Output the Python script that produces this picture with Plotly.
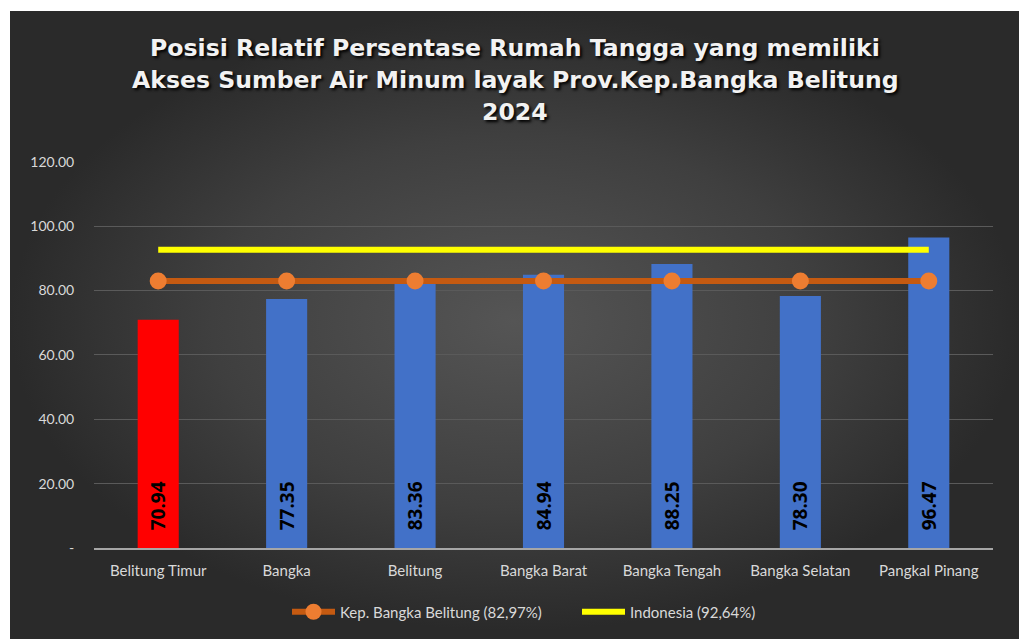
import plotly.graph_objects as go

categories = ["Belitung Timur", "Bangka", "Belitung", "Bangka Barat", "Bangka Tengah", "Bangka Selatan", "Pangkal Pinang"]
values = [70.94, 77.35, 83.36, 84.94, 88.25, 78.30, 96.47]
prov_value = 82.97
indo_value = 92.64
prov_name = "Kep. Bangka Belitung (82,97%)"
indo_name = "Indonesia (92,64%)"
tick_vals = [0, 20, 40, 60, 80, 100, 120]
tick_text = ["-", "20.00", "40.00", "60.00", "80.00", "100.00", "120.00"]
title_lines = ["Posisi Relatif Persentase Rumah Tangga yang memiliki",
               "Akses Sumber Air Minum layak Prov.Kep.Bangka Belitung",
               "2024"]

W, H = 1019, 639
TOP, PH = 8, 623  # observed vertical placement of the plotting area in the page


def fx(px):
    return px / W


def fy(py):
    return 1 - (py - TOP) / PH


bar_colors = ["#FF0000" if i == 0 else "#4271C8" for i in range(len(categories))]

fig = go.Figure()

# background radial gradient panel (subplot xy, drawn first)
fig.add_trace(go.Scatter(
    x=[0, 1, 1, 0, 0], y=[0, 0, 1, 1, 0], mode="lines", fill="toself",
    line=dict(width=0, color="rgba(0,0,0,0)"),
    fillgradient=dict(type="radial", colorscale=[[0, "#555555"], [0.6, "#3f3f3f"], [1, "#2a2a2a"]]),
    hoverinfo="skip", showlegend=False, xaxis="x", yaxis="y"))

nbsp = "\u00a0"
fig.add_trace(go.Bar(
    x=categories, y=values, marker=dict(color=bar_colors, line=dict(width=0)),
    text=[nbsp * 3 + f"{v:.2f}" for v in values], textposition="inside", insidetextanchor="start",
    textangle=-90, textfont=dict(family="Open Sans", size=19, color="#000000", weight="bold"),
    showlegend=False, xaxis="x2", yaxis="y2", hoverinfo="skip"))

fig.add_trace(go.Scatter(
    x=categories, y=[prov_value] * len(categories), mode="lines+markers", name=prov_name,
    line=dict(color="#C55A11", width=6), marker=dict(color="#ED7D31", size=17),
    xaxis="x2", yaxis="y2"))

fig.add_trace(go.Scatter(
    x=categories, y=[indo_value] * len(categories), mode="lines", name=indo_name,
    line=dict(color="#FFFF00", width=6), xaxis="x2", yaxis="y2"))

title_y = [47, 79, 111]
annotations = [
    dict(text=t, xref="paper", yref="paper", x=fx(515), y=fy(yy), xanchor="center",
         yanchor="middle", showarrow=False,
         font=dict(family="DejaVu Sans", size=23.6, color="#f2f2f2", weight="bold",
                   shadow="2px 2px 3px #000000"))
    for t, yy in zip(title_lines, title_y)
]

# white page border strips (top and left) outside the dark chart area
shapes = [
    dict(type="rect", xref="paper", yref="paper", x0=-0.5, x1=fx(10), y0=-0.5, y1=1.5,
         fillcolor="white", line=dict(width=0), layer="above"),
    dict(type="rect", xref="paper", yref="paper", x0=-0.5, x1=1.5, y0=fy(10), y1=1.5,
         fillcolor="white", line=dict(width=0), layer="above"),
]

fig.update_layout(
    width=W, height=H,
    margin=dict(l=0, r=0, t=0, b=0),
    paper_bgcolor="#2a2a2a", plot_bgcolor="rgba(0,0,0,0)",
    xaxis=dict(domain=[fx(10), 1], range=[0, 1], visible=False, fixedrange=True),
    yaxis=dict(domain=[0, fy(10)], range=[0, 1], visible=False, fixedrange=True),
    xaxis2=dict(domain=[fx(94), fx(993)], anchor="y2", showgrid=False,
                showline=True, linecolor="#a6a6a6", linewidth=2,
                tickfont=dict(family="Lato", size=15, color="#d9d9d9"),
                ticks="outside", ticklen=8, tickcolor="rgba(0,0,0,0)"),
    yaxis2=dict(domain=[fy(548), fy(161)], anchor="x2", range=[0, 120],
                tickvals=tick_vals, ticktext=tick_text, showgrid=True, gridcolor="#5a5a5a",
                gridwidth=1, zeroline=False, showline=False,
                tickfont=dict(family="Lato", size=14, color="#d9d9d9"),
                ticks="outside", ticklen=16, tickcolor="rgba(0,0,0,0)"),
    bargap=0.68,
    annotations=annotations,
    shapes=shapes,
    legend=dict(orientation="h", x=fx(287), xanchor="left", y=fy(612), yanchor="middle",
                entrywidth=232, itemwidth=43,
                font=dict(family="Lato", size=15, color="#d9d9d9"), bgcolor="rgba(0,0,0,0)"),
    showlegend=True,
)

fig.write_html(
    "out.html", config={"displayModeBar": False},
    post_script=("document.documentElement.style.margin='0';"
                 "document.documentElement.style.padding='0';"
                 "document.body.style.margin='0';"
                 "document.body.style.padding='0';"
                 "document.body.style.overflow='hidden';"))
